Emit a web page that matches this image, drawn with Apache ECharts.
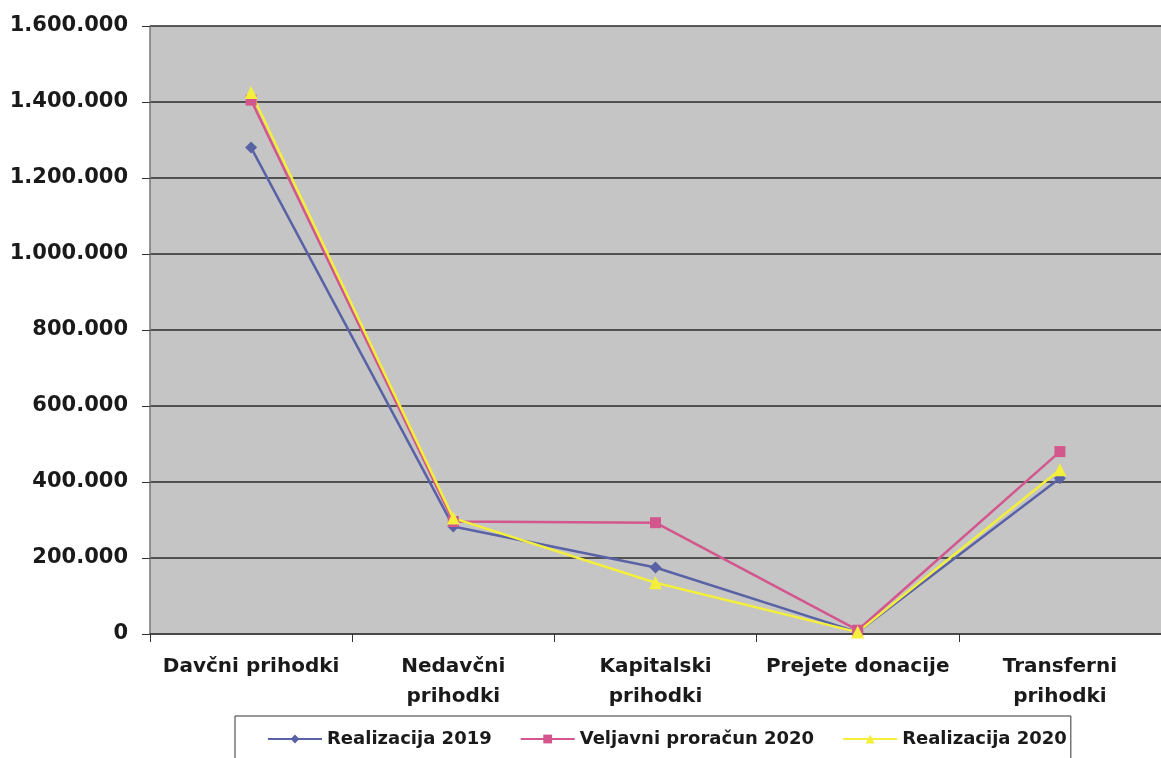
<!DOCTYPE html>
<html>
<head>
<meta charset="utf-8">
<script src="https://cdn.jsdelivr.net/npm/echarts@6/dist/echarts.min.js"></script>
<style>
  html, body { margin: 0; padding: 0; background: #fff; }
  #chart { width: 1161px; height: 758px; }
</style>
</head>
<body>
<div id="chart"></div>
<script>
// kategorije
var categories = ['Davčni prihodki', 'Nedavčni\nprihodki', 'Kapitalski\nprihodki', 'Prejete donacije', 'Transferni\nprihodki'];
// vrednosti
var realizacija2019 = [1280000, 283000, 175000, 5000, 410000];
var veljavni2020 = [1405000, 296000, 293000, 10000, 480000];
var realizacija2020 = [1425000, 305000, 135000, 5000, 432000];

var chart = echarts.init(document.getElementById('chart'));

function fmt(v) {
  return String(v).replace(/\B(?=(\d{3})+(?!\d))/g, '.');
}

var option = {
  animation: false,
  textStyle: { fontFamily: 'DejaVu Sans, sans-serif', fontWeight: 'bold' },
  grid: {
    left: 150,
    right: -4,
    top: 26,
    bottom: 124,
    show: true,
    backgroundColor: '#c5c5c5',
    borderWidth: 0
  },
  legend: {
    left: 235,
    top: 716,
    padding: [14, 4, 30, 32],
    itemGap: 28,
    itemWidth: 54,
    itemHeight: 11,
    borderColor: '#333',
    borderWidth: 1,
    textStyle: { fontSize: 18, color: '#1a1a1a', fontWeight: 'bold', fontFamily: 'DejaVu Sans' },
    data: ['Realizacija 2019', 'Veljavni proračun 2020', 'Realizacija 2020']
  },
  xAxis: {
    type: 'category',
    data: categories,
    boundaryGap: true,
    axisLine: { lineStyle: { color: '#444', width: 1.5 } },
    axisTick: { show: true, length: 8, lineStyle: { color: '#333' } },
    axisLabel: { fontSize: 20, color: '#1a1a1a', fontWeight: 'bold', fontFamily: 'DejaVu Sans', lineHeight: 30, margin: 18, interval: 0 }
  },
  yAxis: {
    type: 'value',
    min: 0,
    max: 1600000,
    interval: 200000,
    axisLine: { show: true, lineStyle: { color: '#777', width: 1.5 } },
    axisTick: { show: true, length: 8, lineStyle: { color: '#333' } },
    splitLine: { lineStyle: { color: '#2a2a2a', width: 1.5 } },
    axisLabel: { fontSize: 21, color: '#1a1a1a', fontWeight: 'bold', fontFamily: 'DejaVu Sans', margin: 22, formatter: fmt }
  },
  series: [
    {
      name: 'Realizacija 2019',
      type: 'line',
      data: realizacija2019,
      symbol: 'diamond',
      symbolSize: 12,
      color: '#5a62a6',
      lineStyle: { width: 2.5 }
    },
    {
      name: 'Veljavni proračun 2020',
      type: 'line',
      data: veljavni2020,
      symbol: 'rect',
      symbolSize: 11,
      color: '#d3578d',
      lineStyle: { width: 2.5 }
    },
    {
      name: 'Realizacija 2020',
      type: 'line',
      data: realizacija2020,
      symbol: 'triangle',
      symbolSize: 13,
      color: '#f3ef3a',
      lineStyle: { width: 2.5 }
    }
  ]
};

chart.setOption(option);
</script>
</body>
</html>
